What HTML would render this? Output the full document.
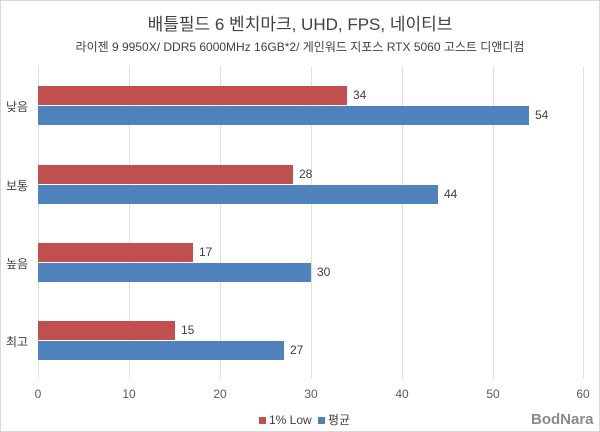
<!DOCTYPE html>
<html><head><meta charset="utf-8"><style>
body{margin:0;background:#fff;}
.c{position:relative;width:598px;height:430px;border:1px solid #d9d9d9;font-family:"Liberation Sans","Noto Sans CJK KR",sans-serif;color:#404040;overflow:hidden}
.t{position:absolute;left:0;width:598px;text-align:center}
.g{position:absolute;top:65px;height:313px;width:1px;background:#e0e0e0}
.b{position:absolute;height:19px}
.r{background:#c0504d}.u{background:#4f81bd}
.v{position:absolute;font-size:12px}
.x{position:absolute;top:386px;font-size:12px;width:30px;margin-left:-15px;text-align:center;color:#595959}
.y{position:absolute;left:5px;font-size:12px}
</style></head><body><div class="c">
<div class="t" style="top:9px;font-size:17px;color:#404040">배틀필드 6 벤치마크, UHD, FPS, 네이티브</div>
<div class="t" style="top:37px;font-size:12px;color:#404040">라이젠 9 9950X/ DDR5 6000MHz 16GB*2/ 게인워드 지포스 RTX 5060 고스트 디앤디컴</div>
<div class="g" style="left:37px"></div><div class="g" style="left:128px"></div><div class="g" style="left:219px"></div><div class="g" style="left:310px"></div><div class="g" style="left:401px"></div><div class="g" style="left:492px"></div><div class="g" style="left:582px"></div>
<div class="b r" style="left:37px;top:85px;width:309px"></div><div class="b u" style="left:37px;top:105px;width:491px"></div>
<div class="b r" style="left:37px;top:164px;width:255px"></div><div class="b u" style="left:37px;top:184px;width:400px"></div>
<div class="b r" style="left:37px;top:242px;width:155px"></div><div class="b u" style="left:37px;top:262px;width:273px"></div>
<div class="b r" style="left:37px;top:320px;width:137px"></div><div class="b u" style="left:37px;top:340px;width:246px"></div>
<div class="v" style="left:352px;top:87px">34</div><div class="v" style="left:534px;top:107px">54</div>
<div class="v" style="left:298px;top:166px">28</div><div class="v" style="left:443px;top:186px">44</div>
<div class="v" style="left:198px;top:244px">17</div><div class="v" style="left:316px;top:264px">30</div>
<div class="v" style="left:180px;top:322px">15</div><div class="v" style="left:289px;top:342px">27</div>
<div class="y" style="top:97px">낮음</div><div class="y" style="top:176px">보통</div><div class="y" style="top:254px">높음</div><div class="y" style="top:332px">최고</div>
<div class="x" style="left:37px">0</div><div class="x" style="left:128px">10</div><div class="x" style="left:219px">20</div><div class="x" style="left:310px">30</div><div class="x" style="left:401px">40</div><div class="x" style="left:492px">50</div><div class="x" style="left:582px">60</div>
<div style="position:absolute;top:410px;left:258px;font-size:12px;color:#404040"><span style="display:inline-block;width:7px;height:7px;background:#c0504d;margin-right:3px"></span>1% Low <span style="display:inline-block;width:7px;height:7px;background:#4f81bd;margin:0 3px 0 3px"></span>평균</div>
<div style="position:absolute;top:410px;left:530px;font-size:15px;font-weight:bold;color:#8a8a8a">BodNara</div>
</div></body></html>
